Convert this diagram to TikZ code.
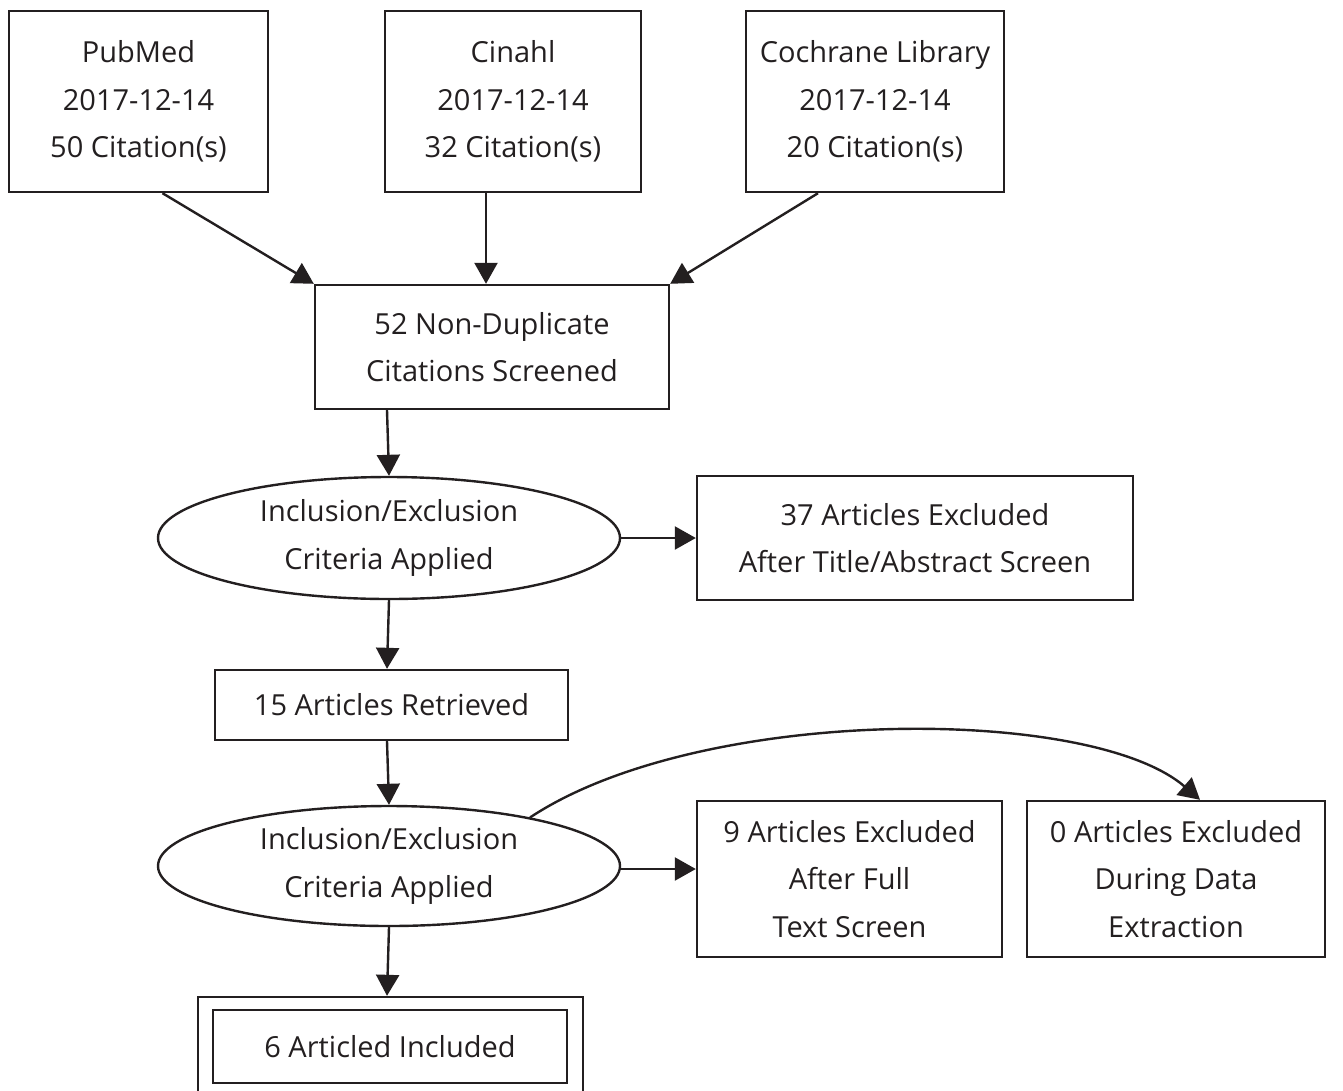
\documentclass[tikz,border=0pt]{standalone}
\usepackage{fontspec}
\setmainfont{Open Sans}
\usetikzlibrary{arrows.meta,shapes.geometric}
\definecolor{ink}{HTML}{231F20}
\begin{document}
\begin{tikzpicture}[x=1pt,y=-1pt,
  every node/.style={text=ink,font=\fontsize{29}{47.5}\selectfont,align=center,inner sep=0pt},
  box/.style={draw=ink,line width=2.4pt,rectangle},
  oval/.style={draw=ink,line width=2.4pt,ellipse},
  arr/.style={draw=ink,line width=2.4pt,-{Triangle[length=21pt,width=23pt]}}]
\useasboundingbox (0,0) rectangle (1343,1090);
\node[box,minimum width=259pt,minimum height=181pt] (pub) at (138.5,101.5) {PubMed\\2017-12-14\\50 Citation(s)};
\node[box,minimum width=256pt,minimum height=181pt] (cin) at (513,101.5) {Cinahl\\2017-12-14\\32 Citation(s)};
\node[box,minimum width=258pt,minimum height=181pt] (coch) at (875,101.5) {Cochrane Library\\2017-12-14\\20 Citation(s)};
\node[box,minimum width=354pt,minimum height=124pt] (dup) at (492,347) {52 Non-Duplicate\\Citations Screened};
\node[oval,minimum width=462pt,minimum height=122pt] (ie1) at (389,538) {Inclusion/Exclusion\\Criteria Applied};
\node[box,minimum width=436pt,minimum height=124pt] (ex1) at (915,538) {37 Articles Excluded\\After Title/Abstract Screen};
\node[box,minimum width=353pt,minimum height=70pt] (ret) at (391.5,705) {15 Articles Retrieved};
\node[oval,minimum width=462pt,minimum height=120pt] (ie2) at (389,866) {Inclusion/Exclusion\\Criteria Applied};
\node[box,minimum width=305pt,minimum height=156pt] (ex2) at (849.5,879) {9 Articles Excluded\\After Full\\Text Screen};
\node[box,minimum width=298pt,minimum height=156pt] (ex3) at (1176,879) {0 Articles Excluded\\During Data\\Extraction};
\node[box,minimum width=385pt,minimum height=100pt] (fin) at (390.5,1047) {};
\node[box,minimum width=354pt,minimum height=73pt] (finin) at (390,1046.5) {6 Articled Included};
\draw[arr] ([xshift=24pt]pub.south) -- (dup.north west);
\draw[arr] ([xshift=-27pt]cin.south) -- ([xshift=-6pt]dup.north);
\draw[arr] ([xshift=-57pt]coch.south) -- (dup.north east);
\draw[arr] ([xshift=-105pt]dup.south) -- (ie1.north);
\draw[arr] (ie1.east) -- (ex1.west);
\draw[arr] (ie1.south) -- ([xshift=-4.5pt]ret.north);
\draw[arr] ([xshift=-4.5pt]ret.south) -- (ie2.north);
\draw[arr] ([yshift=-3pt]ie2.east) -- ([yshift=-3pt]ie2.east -| ex2.west);
\draw[arr] (ie2.south) -- ([xshift=-3.5pt]fin.north);
\coordinate (cs) at (ie2.19);
\coordinate (ce) at ([xshift=24pt]ex3.north);
\draw[arr] (cs) .. controls (700,705) and (1090,705) .. (ce);
\end{tikzpicture}
\end{document}
